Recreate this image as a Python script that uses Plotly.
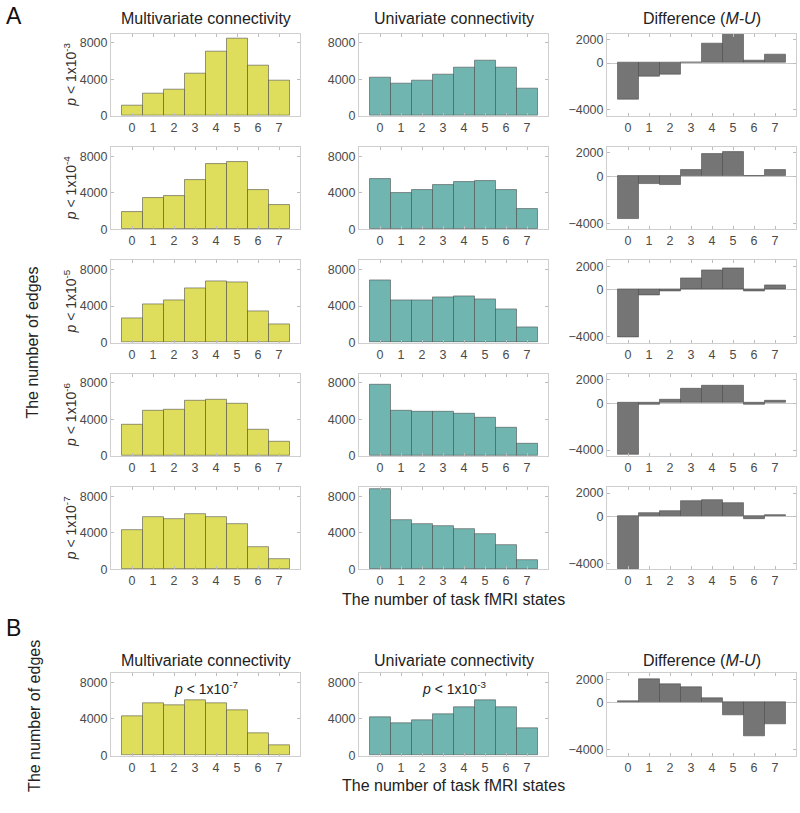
import plotly.graph_objects as go

states = [0, 1, 2, 3, 4, 5, 6, 7]
thresholds = ["3", "4", "5", "6", "7"]

# Panel A: multivariate connectivity (rows p<1e-3 ... p<1e-7)
multi_p3 = [1100, 2400, 2900, 4600, 7050, 8400, 5500, 3850]
multi_p4 = [1850, 3400, 3600, 5350, 7100, 7350, 4250, 2700]
multi_p5 = [2650, 4200, 4600, 5900, 6750, 6600, 3450, 2000]
multi_p6 = [3400, 4900, 5050, 6000, 6150, 5700, 2900, 1500]
multi_p7 = [4300, 5700, 5450, 6000, 5750, 5000, 2400, 1150]

# Panel A: univariate connectivity
uni_p3 = [4150, 3550, 3900, 4550, 5300, 6000, 5300, 3000]
uni_p4 = [5500, 4000, 4300, 4800, 5150, 5250, 4250, 2250]
uni_p5 = [6800, 4650, 4650, 4900, 5050, 4750, 3650, 1700]
uni_p6 = [7800, 5000, 4800, 4800, 4650, 4200, 3050, 1300]
uni_p7 = [8800, 5400, 5000, 4700, 4400, 3900, 2600, 1000]

# Panel A: difference (M-U)
diff_p3 = [-3100, -1200, -1000, 50, 1650, 2450, 200, 750]
diff_p4 = [-3650, -650, -700, 550, 1900, 2100, 0, 500]
diff_p5 = [-4100, -450, -100, 1000, 1650, 1800, -150, 350]
diff_p6 = [-4400, -100, 250, 1200, 1500, 1500, -150, 200]
diff_p7 = [-4500, 300, 450, 1300, 1400, 1100, -200, 150]

# Panel B
multiB = [4300, 5700, 5450, 6000, 5750, 5000, 2400, 1150]
uniB = [4150, 3550, 3900, 4550, 5300, 6000, 5300, 3000]
diffB = [150, 2000, 1600, 1350, 400, -1050, -2900, -1850]

count_ticks = [0, 4000, 8000]
diff_ticks = [-4000, 0, 2000]

W, H = 800, 813
FONT = "Liberation Sans, Arial, Helvetica, sans-serif"
C_M = "#dedd5c"
C_U = "#70b5b0"
C_D = "#757575"
EDGE = "rgba(70,70,70,0.55)"
BOX = "#cfcfcf"

col_x = [(111, 300), (359, 548), (607, 796)]
row_bottoms = [116, 230.5, 345, 459.5, 574]
BOX_H = 83
B_bottom = 762

rowsA = [
    (multi_p3, uni_p3, diff_p3),
    (multi_p4, uni_p4, diff_p4),
    (multi_p5, uni_p5, diff_p5),
    (multi_p6, uni_p6, diff_p6),
    (multi_p7, uni_p7, diff_p7),
]

fig = go.Figure()
annotations = []
ax_i = [0]


def px_x(x):
    return x / W


def px_y(y):
    return 1 - y / H


def add_panel(values, color, x0, x1, bottom, is_diff):
    ax_i[0] += 1
    n = ax_i[0]
    xa = "x" if n == 1 else f"x{n}"
    ya = "y" if n == 1 else f"y{n}"
    fig.add_trace(go.Bar(
        x=states, y=values, width=1.0, xaxis=xa, yaxis=ya,
        marker=dict(color=color, line=dict(color=EDGE, width=1)),
        showlegend=False, hoverinfo="x+y",
    ))
    xkey = "xaxis" if n == 1 else f"xaxis{n}"
    ykey = "yaxis" if n == 1 else f"yaxis{n}"
    common = dict(showline=True, linecolor=BOX, linewidth=1, mirror="ticks",
                  ticks="inside", ticklen=3, tickcolor="#bdbdbd", showgrid=False,
                  tickfont=dict(family=FONT, size=12.5, color="#4a4a4a"))
    fig.update_layout(**{
        xkey: dict(domain=[px_x(x0), px_x(x1)], range=[-1, 8], tickvals=states,
                   anchor=ya, zeroline=False, fixedrange=True, **common),
        ykey: dict(domain=[px_y(bottom), px_y(bottom - BOX_H)], anchor=xa,
                   range=[-4500, 2500] if is_diff else [0, 9000],
                   tickvals=diff_ticks if is_diff else count_ticks,
                   zeroline=is_diff, zerolinecolor="#c8c8c8", zerolinewidth=1,
                   fixedrange=True, **common),
    })


for r, (m, u, d) in enumerate(rowsA):
    b = row_bottoms[r]
    add_panel(m, C_M, *col_x[0], b, False)
    add_panel(u, C_U, *col_x[1], b, False)
    add_panel(d, C_D, *col_x[2], b, True)
    annotations.append(dict(
        text=f"<i>p</i> < 1x10<sup>-{thresholds[r]}</sup>", textangle=-90,
        x=px_x(70), y=px_y(b - BOX_H / 2), xref="paper", yref="paper",
        showarrow=False, font=dict(family=FONT, size=14, color="#333"),
        xanchor="center", yanchor="middle"))

add_panel(multiB, C_M, *col_x[0], B_bottom, False)
add_panel(uniB, C_U, *col_x[1], B_bottom, False)
add_panel(diffB, C_D, *col_x[2], B_bottom, True)

titles = ["Multivariate connectivity", "Univariate connectivity", "Difference (<i>M-U</i>)"]
for title_y in (18, 666):
    for (x0, x1), t in zip(col_x, titles):
        annotations.append(dict(
            text=t, x=px_x((x0 + x1) / 2), y=px_y(title_y), xref="paper", yref="paper",
            showarrow=False, font=dict(family=FONT, size=16, color="#222"),
            xanchor="center", yanchor="middle"))

for xl_y in (604, 792):
    annotations.append(dict(
        text="The number of task fMRI states", x=px_x(453.5), y=px_y(xl_y),
        xref="paper", yref="paper", showarrow=False,
        font=dict(family=FONT, size=16, color="#222"), xanchor="center", yanchor="middle"))

annotations.append(dict(
    text="The number of edges", textangle=-90, x=px_x(33), y=px_y(345),
    xref="paper", yref="paper", showarrow=False,
    font=dict(family=FONT, size=16, color="#222"), xanchor="center", yanchor="middle"))
annotations.append(dict(
    text="The number of edges", textangle=-90, x=px_x(35), y=px_y(722),
    xref="paper", yref="paper", showarrow=False,
    font=dict(family=FONT, size=16, color="#222"), xanchor="center", yanchor="middle"))

annotations.append(dict(
    text="A", x=px_x(4), y=px_y(15), xref="paper", yref="paper", showarrow=False,
    font=dict(family=FONT, size=23, color="#111"), xanchor="left", yanchor="middle"))
annotations.append(dict(
    text="B", x=px_x(4), y=px_y(633), xref="paper", yref="paper", showarrow=False,
    font=dict(family=FONT, size=23, color="#111"), xanchor="left", yanchor="middle"))

for (x0, x1), lab in zip(col_x[:2], ["7", "3"]):
    annotations.append(dict(
        text=f"<i>p</i> < 1x10<sup>-{lab}</sup>", x=px_x((x0 + x1) / 2), y=px_y(694),
        xref="paper", yref="paper", showarrow=False,
        font=dict(family=FONT, size=14, color="#222"), xanchor="center", yanchor="middle"))

fig.update_layout(
    width=W, height=H, margin=dict(l=0, r=0, t=0, b=0),
    paper_bgcolor="white", plot_bgcolor="white", bargap=0,
    annotations=annotations,
)

fig.write_html("out.html", config={"displayModeBar": False},
               post_script="document.body.style.margin='0';")
